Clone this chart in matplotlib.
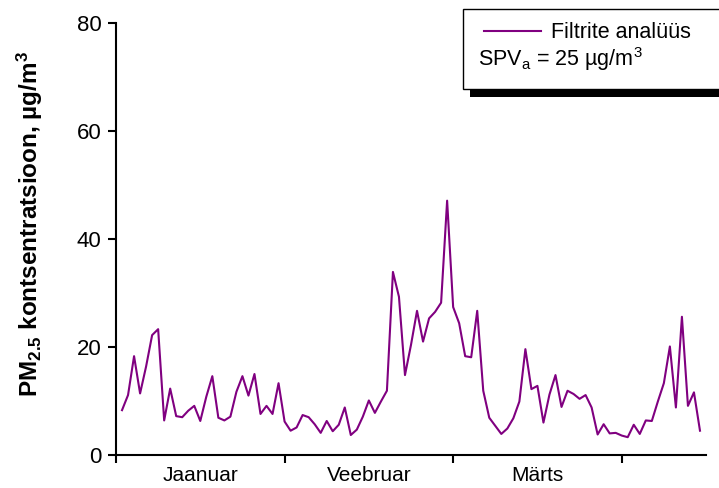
import numpy as np
import matplotlib
matplotlib.use("Agg")
import matplotlib.pyplot as plt
from matplotlib.patches import Rectangle
from matplotlib.lines import Line2D

plt.rcParams['font.family'] = ['Liberation Sans', 'DejaVu Sans']
plt.rcParams['mathtext.default'] = 'regular'

# PM2.5 from filter analysis, one value per sample (97 samples)
pm25 = [8.3, 11.1, 18.3, 11.4, 16.4, 22.2, 23.3, 6.4, 12.3, 7.2,
        7.0, 8.2, 9.1, 6.3, 10.8, 14.6, 6.9, 6.4, 7.1, 11.7,
        14.6, 11.0, 15.0, 7.6, 9.1, 7.6, 13.3, 6.2, 4.5, 5.1,
        7.4, 7.0, 5.7, 4.1, 6.3, 4.4, 5.6, 8.8, 3.7, 4.7,
        7.1, 10.1, 7.8, 9.9, 11.9, 33.9, 29.3, 14.8, 20.4, 26.7,
        21.0, 25.3, 26.5, 28.2, 47.1, 27.4, 24.4, 18.3, 18.1, 26.7,
        11.9, 6.9, 5.4, 3.9, 4.9, 6.8, 9.9, 19.6, 12.2, 12.8,
        6.0, 11.2, 14.8, 8.9, 11.9, 11.3, 10.4, 11.1, 8.8, 3.8,
        5.7, 4.0, 4.1, 3.6, 3.3, 5.6, 3.9, 6.4, 6.3, 9.9,
        13.3, 20.1, 8.8, 25.6, 9.1, 11.6, 4.5]
months = ['Jaanuar', 'Veebruar', 'Märts']
month_len = 28
yticks = [0, 20, 40, 60, 80]

W, H = 719, 488
fig = plt.figure(figsize=(W / 100, H / 100), dpi=100)
ax = fig.add_axes([116 / W, 1 - 455 / H, 590 / W, 432 / H])

x = np.arange(1, len(pm25) + 1)
ax.plot(x, pm25, color='#800080', lw=1.5, label='Filtrite analüüs')

ax.set_xlim(0, len(pm25) + 1)
ax.set_ylim(0, 80)
ax.set_yticks(yticks)
ax.set_xticks(np.arange(0, len(pm25) + 1, month_len))
ax.set_xticklabels([])
ax.set_xticks([month_len * (i + 0.5) for i in range(len(months))], minor=True)
ax.set_xticklabels(months, minor=True, fontsize=15)
ax.tick_params(axis='x', which='minor', length=0, pad=8)
ax.tick_params(axis='both', which='major', direction='out', length=5.5, width=1.5)
ax.tick_params(axis='y', labelsize=16, pad=5)

for s in ['top', 'right']:
    ax.spines[s].set_visible(False)
for s in ['left', 'bottom']:
    ax.spines[s].set_linewidth(1.5)

ax.set_ylabel('PM$_{2.5}$ kontsentratsioon, µg/m$^{3}$', fontsize=17.5, fontweight='bold')
ax.yaxis.set_label_coords(-0.12, 0.535)

# legend box drawn by hand (it runs off the right edge in the original)
def fx(px):
    return px / W

def fy(py):
    return 1 - py / H

fig.patches.append(Rectangle((fx(470), fy(97)), fx(300), 8 / H, transform=fig.transFigure,
                             facecolor='black', edgecolor='none', zorder=5))
fig.patches.append(Rectangle((fx(463), fy(89)), fx(300), 80 / H, transform=fig.transFigure,
                             facecolor='white', edgecolor='black', lw=1.0, zorder=6))
fig.lines.append(Line2D([fx(484), fx(541)], [fy(31), fy(31)], transform=fig.transFigure,
                        color='#800080', lw=1.5, zorder=7))
fig.text(fx(551), fy(32), 'Filtrite analüüs', fontsize=15.5, va='center', ha='left', zorder=7)
fig.text(fx(478), fy(59), 'SPV$_{a}$ = 25 µg/m$^{3}$', fontsize=15.5, va='center', ha='left', zorder=7)

fig.savefig('out.png', dpi=100)
